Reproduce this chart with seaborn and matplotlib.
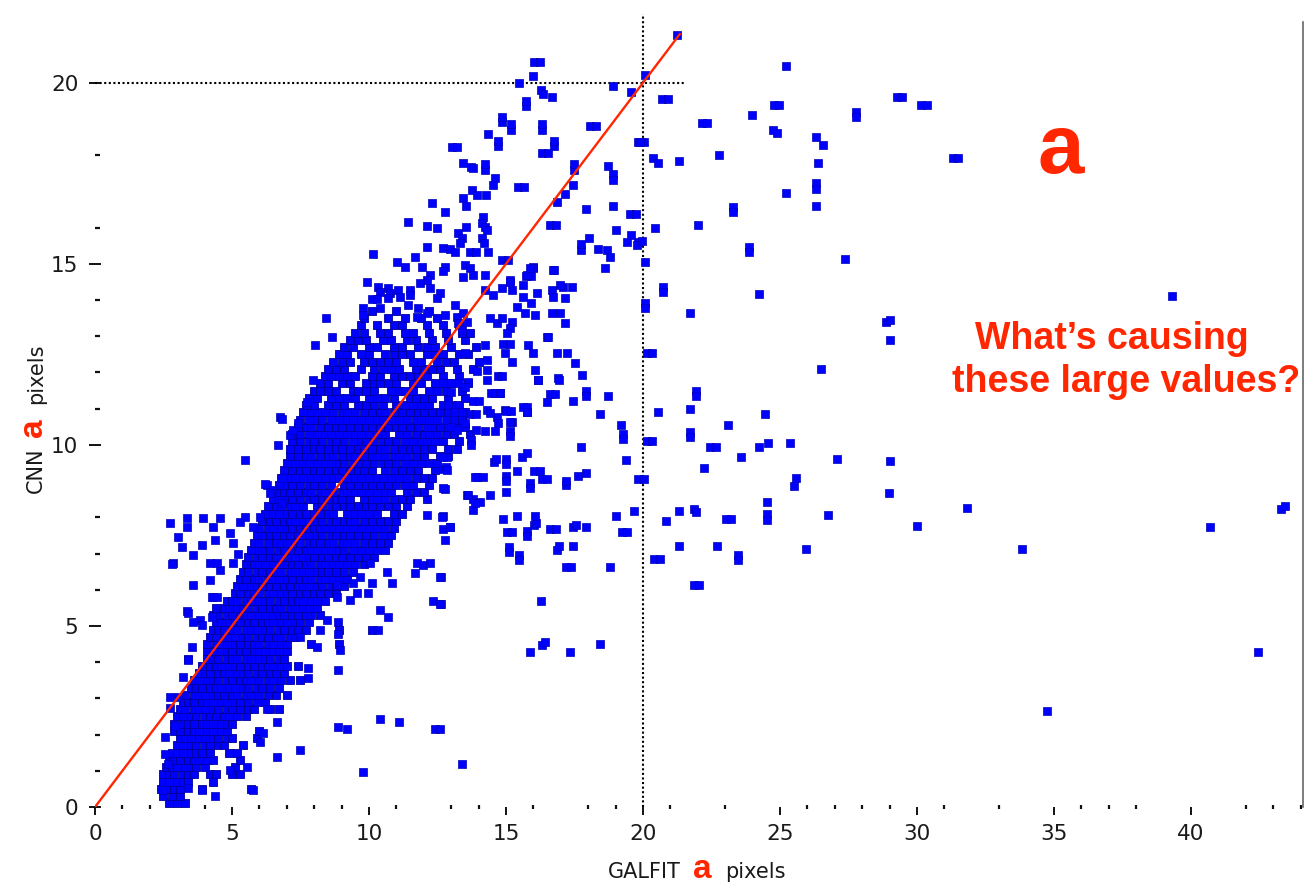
import matplotlib
matplotlib.use("Agg")
import matplotlib.pyplot as plt
from matplotlib.ticker import FixedLocator
import pandas as pd
import seaborn as sns

# ---------------------------------------------------------------------------
# Data: GALFIT vs CNN size estimates (pixels)
# Dense core stored row by row: "y: x x x ..." with values in tenths of a pixel
# ---------------------------------------------------------------------------
core_low = [
    "1: 27 30 33",
    "3: 25 28 31",
    "5: 24 26 29 31 39 57",
    "7: 25 27 30 32 34 43",
    "9: 25 27 29 32 34 36 42 44 50 53",
    "11: 26 28 30 33 35 37 40 51",
    "13: 27 29 31 34 36 38 41 43 53",
    "15: 28 30 32 35 37 39 42 49 52",
    "17: 30 32 35 37 40 42 45 47 54",
    "19: 31 33 35 38 40 43 45 48 50 59",
    "21: 29 31 34 36 38 41 43 46 48 60",
    "23: 29 32 34 36 39 41 43 46 48 50",
    "25: 30 32 35 37 40 42 44 47 49 52 55",
    "27: 31 33 36 38 40 43 45 48 50 53 56 58 64 67",
    "29: 32 34 36 39 41 43 46 48 51 53 56 59 62",
    "31: 33 36 38 40 43 45 47 50 52 55 57 60 63 66 70",
    "33: 35 37 39 42 44 46 49 51 54 56 59 61 64 67",
    "35: 36 38 41 43 45 48 50 53 55 57 60 63 65 68 71 75",
    "37: 38 40 42 45 47 49 52 54 56 59 61 64 66 69",
    "39: 39 42 44 46 49 51 53 56 58 61 63 65 68 70 74",
    "41: 34 41 43 45 48 50 52 55 57 60 62 64 67 69",
    "43: 41 43 46 48 50 53 55 58 60 62 65 67 70",
    "45: 41 44 46 48 51 53 56 58 60 63 65 68 70 79 89",
    "47: 42 44 47 49 51 54 56 59 61 63 66 68 71 73",
    "49: 43 45 47 50 52 55 57 59 62 64 67 69 72 74 77 89 101",
    "51: 44 46 49 51 53 56 58 61 63 65 68 70 73 75 78",
    "53: 43 45 48 50 53 55 57 60 62 65 67 69 72 74 77 79 82",
    "55: 44 47 49 52 54 56 59 61 64 66 68 71 73 76 78 81",
    "57: 48 50 52 55 57 60 62 64 67 69 72 74 76 79 81 84",
    "59: 51 53 56 58 60 63 65 68 70 72 75 77 80 82 85 88",
    "61: 52 54 57 59 61 64 66 69 71 74 76 78 81 83 86 88 91",
    "63: 53 55 58 60 63 65 67 70 72 75 77 79 82 84 87 89 92",
    "65: 54 56 59 61 64 66 68 71 73 76 78 81 83 85 88 91 94",
    "67: 55 58 60 62 65 67 70 72 74 77 79 82 84 87 89 92 95 98",
    "69: 56 59 61 64 66 68 71 73 76 78 80 83 85 88 90 93 96 99 102",
    "71: 57 60 62 64 67 69 72 74 77 79 81 84 86 89 91 94 97 100 103 106",
    "73: 58 60 63 66 68 70 73 75 78 80 82 85 87 90 92 95 98 101 104 107",
    "75: 59 62 64 66 69 71 74 76 78 81 83 86 88 91 93 96 99 102 105 108",
    "77: 60 63 65 68 70 72 75 77 80 82 84 87 89 92 94 97 100 103 106 109",
    "79: 61 64 66 69 71 73 76 78 81 83 86 88 91 93 95 98 101 104 107 110",
]

core_mid = [
    "81: 62 65 67 70 72 75 77 80 82 85 87 92 95 97 100 103 109 112",
    "83: 63 66 68 71 73 76 81 83 86 88 91 93 96 99 101 104 107 110 114",
    "85: 65 67 70 72 75 78 80 83 85 88 90 93 98 101 103 106 109 112 115 121",
    "87: 66 69 71 74 77 79 82 84 87 90 92 95 97 100 103 106 108 114 117 120",
    "89: 67 70 72 75 78 80 83 86 91 93 96 99 101 104 107 110 113 116 122",
    "91: 68 71 73 76 79 81 84 87 89 92 95 97 100 103 105 108 111 114 117 120 123",
    "93: 69 72 75 77 80 82 85 88 90 93 96 98 101 106 109 112 115 118 124",
    "95: 70 73 76 78 81 84 86 89 91 94 97 99 102 105 107 110 113 116 119 122 125",
    "97: 71 74 77 79 82 85 87 90 93 95 98 101 103 106 109 111 114 117 120 126 129",
    "99: 71 74 77 80 82 85 88 90 93 96 98 101 104 106 109 112 115 117 120 123 129 132",
    "101: 72 75 78 80 83 86 88 91 94 97 99 102 105 107 110 113 116 119 121 124 127 133",
    "103: 72 75 78 81 84 86 89 92 95 97 100 103 106 111 114 117 120 122 125 128 131 137",
    "105: 74 77 79 82 85 88 90 93 96 99 101 104 107 110 112 115 118 121 124 126 129 132 135",
    "107: 75 78 81 83 86 89 92 94 97 100 103 105 108 111 114 117 119 122 125 131 134",
    "109: 76 79 81 84 87 90 92 95 98 101 104 106 109 112 115 118 120 123 126 129 135",
    "111: 77 80 85 88 91 96 99 102 105 110 113 116 119 122 127 130 133",
    "113: 78 81 86 89 92 95 100 103 106 109 115 117 120 123 129 135",
    "115: 80 82 85 88 94 96 99 102 108 111 113 116 122 125 128 134",
    "117: 82 85 90 93 99 102 104 107 110 116 119 124 127 130 136",
    "119: 84 86 89 92 95 101 104 109 112 115 118 121 127 133",
    "121: 85 88 91 97 102 105 108 111 117 120 123 126 132 138",
    "123: 87 90 93 98 101 104 107 110 116 119 125 128 131 140",
    "125: 89 92 97 100 106 109 112 115 121 124 127 133 136",
    "127: 91 94 100 103 109 112 118 121 124 130 139",
    "129: 93 96 99 105 108 114 117 123 129 135",
    "131: 95 98 104 107 113 116 122 128 134 137",
    "133: 97 103 109 112 121 127 133",
    "135: 98 107 113 119 125",
    "137: 101 110 122",
]

# Individually placed points: (GALFIT, CNN)
upper_arm = [
    (21.23, 21.32), (20.07, 20.22), (16.03, 20.57), (16.23, 20.57), (15.99, 20.20),
    (15.49, 19.99), (18.89, 19.92), (19.58, 19.76), (16.28, 19.81), (16.34, 19.70),
    (16.67, 19.62), (15.74, 19.35), (15.74, 19.50), (14.85, 18.91), (14.85, 19.05),
    (15.19, 18.70), (15.19, 18.85), (16.33, 18.70), (16.33, 18.85), (18.08, 18.81),
    (18.28, 18.81), (14.33, 18.58), (13.02, 18.22), (13.22, 18.22), (14.72, 18.26),
    (14.72, 18.40), (16.77, 18.26), (16.77, 18.40), (16.33, 18.07), (16.53, 18.07),
    (19.83, 18.36), (20.03, 18.36), (17.49, 17.60), (17.49, 17.75), (13.44, 17.78),
    (13.74, 17.68), (13.81, 17.64), (14.23, 17.60), (14.23, 17.75), (14.60, 17.37),
    (14.51, 17.18), (15.44, 17.11), (15.64, 17.11), (17.46, 17.18), (18.71, 17.71),
    (18.92, 17.49), (18.89, 17.32), (13.75, 17.04), (13.93, 16.91), (14.27, 16.89),
    (17.15, 16.93), (16.85, 16.70), (13.44, 16.81), (13.54, 16.60), (12.77, 16.44),
    (17.92, 16.52), (18.89, 16.60), (19.53, 16.37), (19.73, 16.37), (16.61, 16.08),
    (16.81, 16.08), (14.17, 16.30), (14.11, 16.14), (14.23, 16.03), (14.29, 15.94),
    (13.54, 16.01), (13.26, 15.85), (13.38, 15.71), (13.32, 15.57), (14.11, 15.71),
    (14.20, 15.57), (12.70, 15.44), (12.96, 15.41), (13.14, 15.33), (13.69, 15.34),
    (13.89, 15.34), (14.33, 15.34), (14.86, 15.11), (15.06, 15.11), (15.97, 14.90),
    (16.76, 14.83), (15.73, 14.67), (15.93, 14.67), (15.15, 14.56), (12.77, 14.90),
    (12.71, 14.79), (13.50, 14.97), (13.69, 14.88), (13.81, 14.70), (13.44, 14.65),
    (18.04, 15.71), (18.37, 15.41), (18.67, 15.37), (18.80, 15.20), (19.00, 15.94),
    (19.40, 15.61), (19.58, 15.80), (19.83, 15.61), (19.77, 15.52), (17.74, 15.39),
    (17.74, 15.54), (18.61, 14.89), (12.29, 16.67), (11.41, 16.15), (12.10, 16.05),
    (12.47, 16.00), (12.10, 15.47), (10.13, 15.28), (11.68, 15.18), (11.01, 15.06),
    (11.31, 14.90), (11.92, 14.90), (12.23, 14.70), (12.10, 14.56), (11.86, 14.46),
    (14.23, 14.70), (9.94, 14.51), (10.34, 14.37), (10.40, 14.23), (10.70, 14.32),
    (10.77, 14.19), (10.70, 14.05), (11.07, 14.28), (11.13, 14.09), (11.50, 14.28),
    (11.50, 14.14), (10.10, 14.02), (10.30, 14.02), (9.79, 13.78), (9.79, 13.59),
    (10.40, 13.78), (11.43, 13.87), (11.80, 13.78), (12.10, 13.64), (11.74, 13.54),
    (12.23, 14.32), (12.59, 14.19), (12.47, 14.05), (13.14, 13.87), (12.77, 13.59),
    (13.20, 13.54), (13.44, 13.63), (13.56, 13.40), (13.26, 13.36), (13.38, 13.18),
    (14.23, 14.28), (14.54, 14.14), (14.84, 14.32), (15.15, 14.51), (15.21, 14.28),
    (15.63, 14.42), (15.75, 14.70), (16.00, 14.88), (15.93, 13.91), (15.39, 13.81),
    (15.63, 14.09), (16.12, 14.19), (16.73, 14.83), (16.67, 14.28), (16.73, 14.09),
    (17.09, 14.37), (16.97, 14.42), (17.40, 14.37), (17.15, 14.05), (16.67, 13.63),
    (16.97, 13.63), (17.15, 13.36), (16.06, 13.59), (15.69, 13.63), (14.42, 13.50),
    (14.66, 13.36), (14.84, 13.50), (15.21, 13.40), (15.15, 13.22), (15.02, 13.08),
    (16.48, 12.99), (15.88, 14.88), (14.23, 12.76), (14.90, 12.80), (15.15, 12.80),
    (14.96, 12.53), (15.21, 12.30), (15.81, 12.76), (15.99, 12.53), (16.55, 12.99),
    (16.85, 12.53), (17.22, 12.53), (17.52, 12.25), (17.76, 11.93), (16.06, 12.07),
    (16.18, 11.80), (16.91, 11.84), (13.50, 12.53), (14.29, 12.35), (14.29, 12.07),
    (13.93, 12.03), (14.29, 11.80), (14.72, 11.89), (14.84, 11.89), (14.47, 11.42),
    (14.78, 11.42), (14.96, 10.97), (15.63, 11.05), (15.75, 10.92), (15.21, 10.64),
    (14.29, 10.97), (8.43, 13.51), (8.03, 12.76), (8.64, 12.99), (7.97, 11.79),
    (7.73, 11.19),
]

right_tail = [
    (25.22, 20.47), (20.70, 19.55), (20.90, 19.55), (24.78, 19.39), (24.98, 19.39),
    (29.26, 19.62), (29.46, 19.62), (30.15, 19.40), (30.35, 19.40), (23.97, 19.10),
    (27.76, 19.20), (27.76, 19.05), (22.15, 18.89), (22.35, 18.89), (24.76, 18.70),
    (24.90, 18.62), (26.30, 18.51), (26.58, 18.29), (19.90, 18.37), (20.35, 17.93),
    (20.56, 17.78), (21.33, 17.85), (22.78, 18.00), (26.40, 17.78), (31.30, 17.93),
    (31.50, 17.93), (26.30, 17.22), (26.30, 17.07), (25.22, 16.97), (26.30, 16.60),
    (23.28, 16.56), (23.28, 16.42), (20.45, 16.00), (22.02, 16.08), (19.95, 15.64),
    (23.87, 15.46), (23.87, 15.32), (27.37, 15.13), (20.06, 15.04), (20.74, 14.35),
    (20.74, 14.21), (24.24, 14.16), (20.06, 13.91), (20.06, 13.77), (21.72, 13.64),
    (28.87, 13.39), (29.00, 13.45), (29.01, 12.90), (20.13, 12.55), (20.33, 12.55),
    (39.30, 14.10), (43.30, 8.23), (43.45, 8.30), (40.70, 7.73), (42.45, 4.28),
    (34.74, 2.65), (33.83, 7.13), (31.82, 8.26), (30.00, 7.76), (28.98, 8.67),
    (29.00, 9.56), (27.08, 9.61), (25.50, 8.87), (25.36, 10.06), (26.50, 12.10),
    (24.56, 10.06), (25.58, 9.09), (26.75, 8.07), (25.95, 7.13),
]

mid_scatter = [
    (16.18, 11.78), (16.95, 11.78), (16.61, 11.41), (16.78, 11.41), (17.92, 11.48),
    (17.92, 11.34), (18.71, 11.35), (17.43, 11.22), (21.92, 11.48), (21.92, 11.34),
    (20.56, 10.92), (21.73, 10.98), (24.45, 10.85), (18.42, 10.85), (19.20, 10.55),
    (23.09, 10.55), (19.26, 10.30), (19.26, 10.16), (20.13, 10.11), (20.33, 10.11),
    (21.73, 10.37), (21.73, 10.23), (22.45, 9.95), (22.65, 9.95), (24.24, 9.95),
    (17.73, 9.95), (23.58, 9.66), (19.38, 9.59), (22.21, 9.36), (17.92, 9.22),
    (17.64, 9.14), (19.82, 9.07), (20.02, 9.07), (17.19, 8.89), (17.19, 9.00),
    (19.68, 8.18), (19.00, 8.04), (21.33, 8.18), (21.87, 8.22), (21.95, 8.15),
    (20.85, 7.89), (23.03, 7.96), (23.23, 7.96), (24.54, 8.41), (24.54, 8.08),
    (24.54, 7.94), (17.46, 7.74), (17.55, 7.80), (17.92, 7.74), (19.23, 7.60),
    (19.43, 7.60), (16.61, 7.67), (16.81, 7.67), (17.45, 7.22), (16.88, 7.11),
    (16.95, 7.20), (21.33, 7.22), (22.69, 7.22), (20.41, 6.86), (20.61, 6.86),
    (23.48, 6.96), (23.48, 6.82), (17.19, 6.63), (17.39, 6.63), (18.80, 6.63),
    (21.86, 6.12), (22.06, 6.12), (16.28, 5.68), (16.33, 4.47), (16.42, 4.55),
    (15.88, 4.27), (17.35, 4.27), (18.42, 4.49),
    (15.02, 7.60), (15.22, 7.60), (15.78, 7.63), (15.78, 7.49), (16.02, 7.78),
    (16.10, 7.85), (15.10, 7.18), (15.10, 7.04), (15.49, 6.96), (15.49, 6.82),
    (14.90, 7.96), (15.39, 8.04), (16.07, 8.04), (12.69, 8.04), (12.69, 7.67),
    (12.96, 7.74), (12.76, 7.38), (12.62, 6.35), (12.62, 5.61),
    (13.56, 8.62), (13.81, 8.52), (14.05, 8.43), (14.42, 8.62), (13.81, 8.20),
    (13.95, 9.11), (14.15, 9.11), (15.00, 9.14), (15.00, 9.00), (15.88, 8.96),
    (15.88, 8.82), (16.31, 9.07), (16.51, 9.07), (15.00, 8.70), (12.76, 8.77),
    (12.71, 9.33), (12.80, 9.40), (12.86, 9.66), (14.56, 9.54), (14.65, 9.60),
    (15.00, 9.61), (15.00, 9.47), (15.39, 9.29), (15.60, 9.66), (15.78, 9.78),
    (16.03, 9.29), (16.23, 9.29), (13.73, 10.13), (13.73, 9.99), (15.15, 10.39),
    (15.15, 10.25), (14.59, 10.39), (14.23, 10.39), (15.15, 10.62), (14.66, 10.78),
    (14.42, 10.88), (14.72, 10.60), (15.00, 10.94), (15.20, 10.94), (15.75, 11.06),
    (15.78, 10.92), (13.69, 10.85), (13.89, 10.85), (13.81, 11.20), (14.01, 11.20),
    (14.60, 11.43), (14.80, 11.43), (16.48, 11.19),
    (12.70, 11.70), (13.00, 11.70), (13.30, 11.70), (13.60, 11.75), (13.00, 11.45),
    (13.50, 11.60), (12.90, 11.10), (13.10, 10.90), (12.80, 10.70), (13.00, 10.50),
    (13.20, 10.40), (13.50, 10.60), (13.40, 10.90), (13.90, 10.40),
    (12.71, 9.67), (12.83, 9.31), (13.87, 9.12), (13.62, 8.62), (13.87, 8.39),
    (12.71, 8.80), (12.10, 8.07), (12.65, 8.01), (12.96, 7.74),
]

lower_fringe = [
    (2.74, 7.83), (3.35, 7.97), (3.35, 7.74), (3.95, 7.97), (4.56, 7.97),
    (4.32, 7.74), (3.04, 7.47), (3.16, 7.19), (3.59, 6.96), (3.89, 7.24),
    (4.38, 7.38), (2.86, 6.73), (4.20, 6.27), (4.32, 5.81), (3.83, 5.17),
    (3.35, 5.40), (3.53, 4.43), (4.93, 7.56), (5.05, 7.28), (5.29, 7.88),
    (5.47, 8.01), (5.78, 7.74), (5.23, 7.00), (5.05, 6.73), (4.56, 6.55),
    (6.02, 8.01), (5.47, 9.59), (6.75, 10.78), (6.27, 8.90), (6.45, 8.76),
    (6.81, 8.39), (6.69, 10.01), (6.87, 9.08), (7.12, 10.28), (7.24, 10.41),
    (7.42, 10.60), (4.20, 6.73), (4.45, 6.73), (6.20, 8.93), (6.39, 8.66),
    (6.81, 10.71),
    (2.80, 6.71), (3.59, 6.13), (4.26, 5.81), (4.44, 5.81), (3.41, 5.35),
    (3.59, 5.12), (3.89, 5.03), (4.26, 5.25), (3.41, 4.06), (3.22, 3.60),
    (2.74, 3.03), (3.04, 3.03), (2.74, 2.74), (2.92, 2.24), (2.55, 1.92),
    (2.55, 1.47), (2.68, 1.19),
    (10.04, 6.73), (10.64, 6.50), (11.74, 6.73), (11.98, 6.69), (12.23, 6.73),
    (11.68, 6.46), (12.59, 6.36), (10.83, 6.19), (10.10, 6.19), (9.98, 5.90),
    (9.67, 6.36), (12.35, 5.70), (12.59, 5.62), (10.40, 5.44), (10.70, 5.25),
    (10.34, 4.89), (8.88, 5.12), (8.88, 4.79), (8.94, 4.33), (8.88, 3.78),
    (7.79, 3.83), (7.79, 3.55), (8.09, 4.42), (7.48, 4.70), (8.46, 5.17),
    (8.21, 4.89), (8.82, 5.81), (9.31, 5.72), (9.55, 5.90), (9.43, 6.19),
    (8.82, 6.13),
    (6.14, 2.03), (6.02, 1.80), (6.63, 1.39), (7.48, 1.57), (5.78, 0.47),
    (10.40, 2.43), (11.11, 2.36), (12.41, 2.15), (12.61, 2.15), (8.88, 2.22),
    (9.21, 2.15), (9.79, 0.96), (6.27, 2.72), (6.63, 2.35), (5.54, 1.10),
    (4.93, 1.01), (4.38, 0.29), (3.89, 0.47), (3.41, 0.52), (2.49, 0.47),
    (13.39, 1.19),
]

# One-to-one reference line and the 20-pixel guide lines
ref_line_end = 21.35
guide_value = 20

x_major = [0, 5, 10, 15, 20, 25, 30, 35, 40]
y_major = [0, 5, 10, 15, 20]
x_minor = [1, 2, 4, 6, 7, 8, 9, 11, 13, 14, 16, 18, 19, 21, 23, 26, 27, 28, 29,
           31, 33, 36, 37, 38, 42, 43, 44]
y_minor = [1, 2, 3, 4, 6, 7, 8, 11, 12, 13, 14, 16, 18]


def rows_to_points(rows):
    pts = []
    for row in rows:
        y_txt, x_txt = row.split(":")
        y = int(y_txt) / 10
        pts.extend((int(v) / 10, y) for v in x_txt.split())
    return pts


core_df = pd.DataFrame(rows_to_points(core_low) + rows_to_points(core_mid),
                       columns=["galfit", "cnn"])
sparse_df = pd.DataFrame(upper_arm + right_tail + mid_scatter + lower_fringe,
                         columns=["galfit", "cnn"])

# ---------------------------------------------------------------------------
# Figure
# ---------------------------------------------------------------------------
sns.set_theme(style="white")
plt.rcParams["font.family"] = ["DejaVu Sans"]

W, H = 1305, 886
fig = plt.figure(figsize=(W / 100, H / 100), dpi=100)
ax = fig.add_axes([95 / W, 79 / H, (1303 - 95) / W, (807 - 22) / H])

RED = "#ff2600"
BLUE = "#0000ff"

# crowded core: squares overlap, so the outlines give the darker tone
sns.scatterplot(data=core_df, x="galfit", y="cnn", marker="s", s=36,
                color=BLUE, edgecolor="#00009a", linewidth=0.6,
                legend=False, ax=ax, zorder=3)
sns.scatterplot(data=sparse_df, x="galfit", y="cnn", marker="s", s=26,
                color=BLUE, edgecolor="#0000b8", linewidth=0.5,
                legend=False, ax=ax, zorder=3)

ax.plot([0, ref_line_end], [0, ref_line_end], color=RED, lw=1.7, zorder=4)
ax.plot([0, 21.5], [guide_value, guide_value], color="black", lw=1.5,
        ls=(0, (1, 1.2)), zorder=2)
ax.plot([guide_value, guide_value], [0, 21.9], color="black", lw=1.5,
        ls=(0, (1, 1.2)), zorder=2, clip_on=False)

ax.set_xlim(0, 44.09)
ax.set_ylim(0, 21.68)

ax.xaxis.set_major_locator(FixedLocator(x_major))
ax.yaxis.set_major_locator(FixedLocator(y_major))
ax.xaxis.set_minor_locator(FixedLocator(x_minor))
ax.yaxis.set_minor_locator(FixedLocator(y_minor))

for side in ("top", "left", "bottom"):
    ax.spines[side].set_visible(False)
ax.spines["right"].set_visible(True)
ax.spines["right"].set_color("#666666")
ax.spines["right"].set_linewidth(1.2)

ax.tick_params(axis="x", which="major", bottom=True, direction="out",
               length=6, width=1.4, color="#111111", pad=6,
               labelsize=15.5, labelcolor="#1a1a1a")
ax.tick_params(axis="x", which="minor", bottom=True, direction="inout",
               length=3, width=1.6, color="#111111")
ax.tick_params(axis="y", which="major", left=True, direction="inout",
               length=8, width=1.4, color="#111111", pad=8,
               labelsize=15.5, labelcolor="#1a1a1a")
ax.tick_params(axis="y", which="minor", left=True, direction="in",
               length=3.5, width=1.6, color="#111111")
ax.set_xlabel("")
ax.set_ylabel("")

# Axis titles with the red symbol
lab_kw = dict(fontsize=15, color="#1a1a1a", va="baseline", ha="left")
sym_kw = dict(fontsize=24, color=RED, fontweight="bold",
              family="Liberation Sans", va="baseline", ha="left")
fig.text(608 / W, 1 - 878 / H, "GALFIT", **lab_kw)
fig.text(693 / W, 1 - 878 / H, "a", **sym_kw)
fig.text(725 / W, 1 - 878 / H, "pixels", **lab_kw)

fig.text(42 / W, 1 - 493 / H, "CNN", rotation=90, rotation_mode="anchor", **lab_kw)
fig.text(42 / W, 1 - 437 / H, "a", rotation=90, rotation_mode="anchor", **sym_kw)
fig.text(42 / W, 1 - 404 / H, "pixels", rotation=90, rotation_mode="anchor", **lab_kw)

# Annotations
fig.text(1061 / W, 1 - 173 / H, "a", fontsize=60, fontweight="bold",
         family="Liberation Sans", color=RED, ha="center", va="baseline")
fig.text(1112 / W, 1 - 349 / H, "What\u2019s causing", fontsize=27,
         fontweight="bold", family="Liberation Sans", color=RED,
         ha="center", va="baseline")
fig.text(1126 / W, 1 - 392 / H, "these large values?", fontsize=27,
         fontweight="bold", family="Liberation Sans", color=RED,
         ha="center", va="baseline")

fig.savefig("out.png", dpi=100, facecolor="white")
